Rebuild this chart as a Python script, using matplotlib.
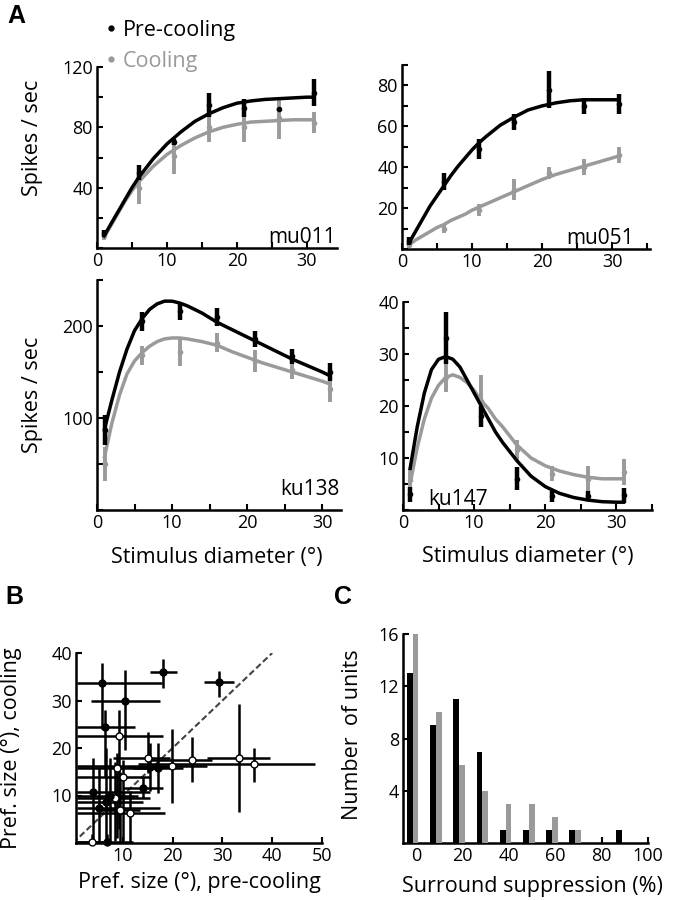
import matplotlib
matplotlib.use("Agg")
import matplotlib.pyplot as plt
from matplotlib.lines import Line2D
from matplotlib.ticker import MultipleLocator
import numpy as np

plt.rcParams['font.family'] = ['Open Sans', 'DejaVu Sans']

# ---------------- data ----------------
stim_x = [1, 6, 11, 16, 21, 26, 31]
fit_x = [1, 2, 3, 4, 5, 6, 7, 8, 9, 10, 11, 12, 14, 16, 18, 20, 22, 24, 26, 28, 30, 31]
fit_x147 = [1, 2, 3, 4, 5, 6, 7, 8, 9, 10, 11, 12, 13, 14, 16, 18, 20, 22, 24, 26, 28, 30, 31]

mu011_pre = [10, 50, 70, 95, 93, 92, 103]
mu011_pre_err = [2, 5, 2, 8, 6, 1, 9]
mu011_cool = [8, 40, 61, 80, 80, 86, 83]
mu011_cool_err = [3, 11, 12, 10, 10, 14, 7]
mu011_pre_fit = [8, 16, 24, 32, 40, 47, 53, 59, 64, 69, 73, 77, 84, 89, 93, 96, 97.5, 98.5, 99, 99.5, 100, 100]
mu011_cool_fit = [7, 15, 23, 31, 38, 44, 49, 54, 58, 62, 65, 68, 73, 77, 80, 82, 83.5, 84, 84.5, 85, 85, 85]

mu051_pre = [4, 33, 49, 62, 78, 70, 71]
mu051_pre_err = [2, 4, 5, 4, 9, 4, 5]
mu051_cool = [2, 10, 19, 29, 37, 40, 46]
mu051_cool_err = [1.5, 2, 3, 5, 3, 4, 4]
mu051_pre_fit = [3, 9, 15, 21, 26, 31, 36, 40.5, 44.5, 48.5, 52, 55, 60.5, 64.5, 68, 70, 71.5, 72.5, 73, 73, 73, 73]
mu051_cool_fit = [2, 4.5, 6.5, 8.5, 10.5, 12, 14, 15.5, 17, 19, 20.5, 22, 25, 28, 31, 34, 36.5, 38.5, 40.5, 42.5, 44.5, 45.5]

ku138_pre = [87, 205, 216, 210, 186, 167, 150]
ku138_pre_err = [16, 10, 9, 10, 9, 8, 10]
ku138_cool = [50, 168, 172, 182, 162, 152, 132]
ku138_cool_err = [18, 10, 16, 10, 12, 10, 15]
ku138_pre_fit = [88, 120, 150, 175, 195, 208, 218, 224, 227, 227, 225, 222, 214, 204, 196, 188, 180, 172, 164, 157, 150, 146]
ku138_cool_fit = [58, 95, 125, 148, 162, 171, 178, 183, 186, 187, 187, 186, 183, 179, 172, 166, 160, 155, 150, 145, 140, 137]

ku147_pre = [3, 33, 18, 6, 2.6, 2.7, 2.8]
ku147_pre_err = [1.5, 5, 2, 2.2, 1, 1, 1.5]
ku147_cool = [5.8, 25.6, 21, 11.5, 7, 6, 7.4]
ku147_cool_err = [2, 3, 5, 2, 1.5, 2.5, 2.5]
ku147_pre_fit = [8, 16, 22.5, 27, 29, 29.5, 29, 27.5, 25, 22.5, 20, 17.5, 15, 13, 9.5, 6.5, 4.5, 3.2, 2.4, 1.9, 1.6, 1.5, 1.5]
ku147_cool_fit = [5, 12, 17.5, 21.5, 24, 25.5, 26, 25.5, 24.5, 23, 21, 19.5, 17.5, 16, 12.5, 10, 8.5, 7.5, 6.8, 6.3, 6, 6, 6]

# Panel B: preferred size (deg)
b_x    = [18.0, 29.4, 5.8, 10.4, 6.4, 9.2, 15.0, 19.8, 23.8, 33.3, 36.3, 8.8, 10.0, 15.4, 17.0, 14.0, 11.4, 8.5, 7.5, 6.6, 5.2, 4.0, 3.8, 6.8, 9.4]
b_y    = [36.0, 33.8, 33.7, 30.0, 24.4, 22.5, 17.9, 16.3, 17.5, 17.9, 16.7, 15.8, 14.0, 16.0, 15.8, 11.5, 6.3, 9.5, 10.0, 8.6, 7.4, 10.7, 0.2, 0.2, 7.0]
b_xlo  = [15.4, 26.4, 0.8, 3.6, 0.8, 0.8, 8.0, 0.8, 15.0, 27.0, 13.0, 0.8, 0.8, 10.0, 12.0, 10.0, 0.8, 0.8, 0.8, 0.8, 0.8, 0.8, 0.8, 0.8, 5.0]
b_xhi  = [20.8, 32.4, 17.8, 17.4, 12.4, 18.0, 19.4, 27.0, 28.0, 39.5, 48.5, 17.0, 15.4, 20.0, 22.0, 18.0, 18.5, 15.4, 13.0, 14.0, 17.5, 15.4, 6.0, 12.0, 13.5]
b_ylo  = [32.6, 30.7, 24.0, 19.6, 14.0, 3.0, 14.7, 8.5, 12.8, 6.5, 12.8, 1.0, 0.5, 11.0, 10.5, 9.5, 0.0, 0.5, 0.0, 0.0, 0.0, 0.0, 0.0, 0.0, 0.0]
b_yhi  = [38.7, 36.3, 38.0, 36.4, 28.0, 28.0, 23.4, 24.0, 22.3, 29.3, 20.0, 19.0, 17.5, 21.0, 21.0, 14.0, 11.0, 17.0, 18.0, 20.0, 16.0, 18.0, 2.0, 2.0, 15.0]
b_filled = [1, 1, 1, 1, 1, 0, 0, 0, 0, 0, 0, 0, 0, 1, 1, 1, 0, 0, 1, 1, 1, 1, 0, 1, 0]

# Panel C: surround suppression histogram
supp_bins = [0, 10, 20, 30, 40, 50, 60, 70, 80, 90]
pre_counts = [13, 9, 11, 7, 1, 1, 1, 1, 0, 1]
cool_counts = [16, 10, 6, 4, 3, 3, 2, 1, 0, 0]

GRAY = '#9a9a9a'
FS = 13      # tick labels
LFS = 15.5   # axis labels

fig = plt.figure(figsize=(6.85, 9), dpi=100)

def px_axes(left, top, right, bottom):
    return fig.add_axes([left / 685, 1 - bottom / 900, (right - left) / 685, (bottom - top) / 900])

def style(ax):
    for s in ['top', 'right']:
        ax.spines[s].set_visible(False)
    for s in ['left', 'bottom']:
        ax.spines[s].set_linewidth(1.8)
    ax.tick_params(which='both', direction='in', length=4, width=1.5, labelsize=FS, pad=3)

def panel_a(ax, pre, pre_err, cool, cool_err, xf, pre_fit, cool_fit):
    ax.plot(xf, cool_fit, color=GRAY, lw=2.5, zorder=2)
    ax.errorbar(stim_x, cool, yerr=cool_err, fmt='o', ms=3, color=GRAY, elinewidth=2.8, capsize=0, zorder=3)
    ax.plot(xf, pre_fit, color='black', lw=2.5, zorder=4)
    ax.errorbar(stim_x, pre, yerr=pre_err, fmt='o', ms=3, color='black', elinewidth=3.2, capsize=0, zorder=5)
    style(ax)
    ax.xaxis.set_major_locator(MultipleLocator(10))
    ax.xaxis.set_minor_locator(MultipleLocator(5))

# top-left mu011
ax1 = px_axes(97, 67, 337, 248)
panel_a(ax1, mu011_pre, mu011_pre_err, mu011_cool, mu011_cool_err, fit_x, mu011_pre_fit, mu011_cool_fit)
ax1.set_xlim(0, 34.3)
ax1.set_ylim(0, 120)
ax1.set_yticks([40, 80, 120])
ax1.yaxis.set_minor_locator(MultipleLocator(20))
ax1.text(0.995, 0.0, 'mu011', transform=ax1.transAxes, ha='right', va='bottom', fontsize=15)
ax1.set_ylabel('Spikes / sec', fontsize=LFS)
ax1.yaxis.set_label_coords(-0.225, 0.61)

# top-right mu051
ax2 = px_axes(402, 65, 650, 249)
panel_a(ax2, mu051_pre, mu051_pre_err, mu051_cool, mu051_cool_err, fit_x, mu051_pre_fit, mu051_cool_fit)
ax2.set_xlim(0, 35.4)
ax2.set_ylim(0, 90)
ax2.set_yticks([20, 40, 60, 80])
ax2.yaxis.set_minor_locator(MultipleLocator(10))
ax2.text(0.935, 0.0, 'mu051', transform=ax2.transAxes, ha='right', va='bottom', fontsize=15)

# bottom-left ku138
ax3 = px_axes(97, 280, 341, 510)
panel_a(ax3, ku138_pre, ku138_pre_err, ku138_cool, ku138_cool_err, fit_x, ku138_pre_fit, ku138_cool_fit)
ax3.set_xlim(0, 32.5)
ax3.set_ylim(0, 250)
ax3.set_yticks([100, 200])
ax3.yaxis.set_minor_locator(MultipleLocator(50))
ax3.text(0.995, 0.045, 'ku138', transform=ax3.transAxes, ha='right', va='bottom', fontsize=15)
ax3.set_ylabel('Spikes / sec', fontsize=LFS)
ax3.yaxis.set_label_coords(-0.22, 0.5)
ax3.set_xlabel('Stimulus diameter (°)', fontsize=LFS)
ax3.xaxis.set_label_coords(0.49, -0.16)

# bottom-right ku147
ax4 = px_axes(403, 302, 652, 510)
panel_a(ax4, ku147_pre, ku147_pre_err, ku147_cool, ku147_cool_err, fit_x147, ku147_pre_fit, ku147_cool_fit)
ax4.set_xlim(0, 35)
ax4.set_ylim(0, 40)
ax4.set_yticks([10, 20, 30, 40])
ax4.yaxis.set_minor_locator(MultipleLocator(5))
ax4.text(0.10, 0.0, 'ku147', transform=ax4.transAxes, ha='left', va='bottom', fontsize=15)
ax4.set_xlabel('Stimulus diameter (°)', fontsize=LFS)
ax4.xaxis.set_label_coords(0.5, -0.175)

# legend
handles = [Line2D([], [], marker='o', ls='none', color='black', ms=3.5),
           Line2D([], [], marker='o', ls='none', color=GRAY, ms=3.5)]
ax1.legend(handles, ['Pre-cooling', 'Cooling'], loc='upper left',
           bbox_to_anchor=(106 / 685, 1 - 20 / 900), bbox_transform=fig.transFigure,
           frameon=False, fontsize=LFS, handlelength=0.5, handletextpad=0.3,
           labelspacing=0.45, borderpad=0, borderaxespad=0, labelcolor=['black', GRAY])

# Panel B
axB = px_axes(76, 653, 322, 843)
axB.plot([0, 40], [0, 40], ls=(0, (3, 1.5)), color='#444444', lw=1.5, zorder=1)
for i in range(len(b_x)):
    xe = [[b_x[i] - b_xlo[i]], [b_xhi[i] - b_x[i]]]
    ye = [[b_y[i] - b_ylo[i]], [b_yhi[i] - b_y[i]]]
    face = 'black' if b_filled[i] else 'white'
    axB.errorbar([b_x[i]], [b_y[i]], xerr=xe, yerr=ye, fmt='o', ms=5, mfc=face, mec='black',
                 mew=1, color='black', elinewidth=1.8, capsize=0, zorder=3, clip_on=False)
style(axB)
axB.set_xlim(0.6, 50)
axB.set_ylim(0, 40)
axB.set_xticks([10, 20, 30, 40, 50])
axB.set_yticks([10, 20, 30, 40])
axB.set_xlabel('Pref. size (°), pre-cooling', fontsize=LFS)
axB.xaxis.set_label_coords(0.5, -0.155)
axB.set_ylabel('Pref. size (°), cooling', fontsize=LFS)
axB.yaxis.set_label_coords(-0.22, 0.5)

# Panel C
axC = px_axes(403, 634, 648, 843)
pos_pre = [b - 2.6 for b in supp_bins]
pos_cool = [b - 0.1 for b in supp_bins]
axC.bar(pos_pre, pre_counts, width=2.5, color='black', zorder=3)
axC.bar(pos_cool, cool_counts, width=2.5, color=GRAY, zorder=3)
style(axC)
axC.set_xlim(-5.5, 99.5)
axC.set_ylim(0, 16)
axC.set_xticks([0, 20, 40, 60, 80, 100])
axC.set_yticks([4, 8, 12, 16])
axC.set_xlabel('Surround suppression (%)', fontsize=LFS)
axC.xaxis.set_label_coords(0.53, -0.16)
axC.set_ylabel('Number  of units', fontsize=LFS)
axC.yaxis.set_label_coords(-0.165, 0.52)

# panel letters
for lbl, x, y in [('A', 16, 16), ('B', 14, 597), ('C', 343, 597)]:
    fig.text(x / 685, 1 - y / 900, lbl, fontsize=18, fontweight='bold',
             family='Liberation Sans', ha='center', va='center')

fig.savefig('out.png', dpi=100)
